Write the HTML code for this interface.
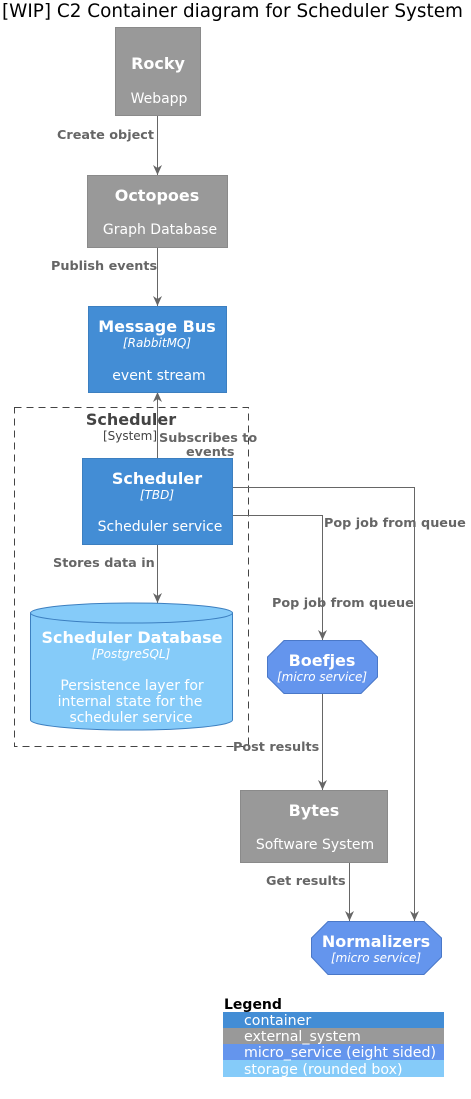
<!DOCTYPE html>
<html><head><meta charset="utf-8"><style>
html,body{margin:0;padding:0;background:#fff}
svg{display:block;font-family:"DejaVu Sans","Liberation Sans",sans-serif}
.lb{font-size:12.8px;font-weight:bold;fill:#666}
.t{font-size:16px;font-weight:bold;fill:#fff}
.s{font-size:12px;font-style:italic;fill:#fff}
.d{font-size:14px;fill:#fff}
.ln{stroke:#666;stroke-width:1;fill:none}
</style></head><body>
<svg width="471" height="1099" viewBox="0 0 471 1099">
<defs><marker id="a" markerWidth="12" markerHeight="12" refX="10" refY="5" orient="auto-start-reverse" markerUnits="userSpaceOnUse"><path d="M0,0.5 L10,5 L0,9.5 L3,5 Z" fill="#666"/></marker></defs>
<text x="2" y="17" font-size="18.4" fill="#000">[WIP] C2 Container diagram for Scheduler System</text>

<rect x="14.5" y="407.5" width="234" height="339" fill="none" stroke="#444" stroke-dasharray="7,5"/>
<text x="131" y="425" text-anchor="middle" font-size="16" font-weight="bold" fill="#444">Scheduler</text>
<text x="130" y="440" text-anchor="middle" font-size="12" fill="#444">[System]</text>

<line class="ln" x1="157.5" y1="116" x2="157.5" y2="175" marker-end="url(#a)"/>
<line class="ln" x1="157.5" y1="247" x2="157.5" y2="306" marker-end="url(#a)"/>
<line class="ln" x1="157.5" y1="458" x2="157.5" y2="392" marker-end="url(#a)"/>
<line class="ln" x1="157.5" y1="544" x2="157.5" y2="603" marker-end="url(#a)"/>
<polyline class="ln" points="232,487.5 414.5,487.5 414.5,921" marker-end="url(#a)"/>
<polyline class="ln" points="232,515.5 322.5,515.5 322.5,640" marker-end="url(#a)"/>
<line class="ln" x1="322.5" y1="693" x2="322.5" y2="790" marker-end="url(#a)"/>
<line class="ln" x1="349.5" y1="862" x2="349.5" y2="921" marker-end="url(#a)"/>

<text class="lb" x="57" y="139">Create object</text>
<text class="lb" x="51" y="270">Publish events</text>
<text class="lb" x="159" y="442">Subscribes to</text>
<text class="lb" x="186" y="456">events</text>
<text class="lb" x="53" y="567">Stores data in</text>
<text class="lb" x="324" y="527">Pop job from queue</text>
<text class="lb" x="272" y="607">Pop job from queue</text>
<text class="lb" x="233" y="751">Post results</text>
<text class="lb" x="266" y="885">Get results</text>

<rect x="115.5" y="27.5" width="85" height="88" fill="#999" stroke="#8a8a8a"/>
<text class="t" x="158" y="69" text-anchor="middle">Rocky</text>
<text class="d" x="159" y="103" text-anchor="middle">Webapp</text>
<rect x="87.5" y="175.5" width="140" height="72" fill="#999" stroke="#8a8a8a"/>
<text class="t" x="157" y="201" text-anchor="middle">Octopoes</text>
<text class="d" x="160" y="234" text-anchor="middle">Graph Database</text>
<rect x="88.5" y="306.5" width="138" height="86" fill="#438dd5" stroke="#3c7fc0"/>
<text class="t" x="157" y="332" text-anchor="middle">Message Bus</text>
<text class="s" x="157" y="347" text-anchor="middle">[RabbitMQ]</text>
<text class="d" x="159" y="380" text-anchor="middle">event stream</text>
<rect x="82.5" y="458.5" width="150" height="86" fill="#438dd5" stroke="#3c7fc0"/>
<text class="t" x="157" y="484" text-anchor="middle">Scheduler</text>
<text class="s" x="157" y="499" text-anchor="middle">[TBD]</text>
<text class="d" x="160" y="531" text-anchor="middle">Scheduler service</text>
<path d="M30.5,613 A101,10 0 0 1 232.5,613 L232.5,720 A101,10 0 0 1 30.5,720 Z" fill="#85cbf9" stroke="#3c7fc0"/>
<path d="M30.5,613 A101,10 0 0 0 232.5,613" fill="none" stroke="#3c7fc0"/>
<text class="t" x="132" y="643" text-anchor="middle">Scheduler Database</text>
<text class="s" x="131" y="658" text-anchor="middle">[PostgreSQL]</text>
<text class="d" x="132" y="690" text-anchor="middle">Persistence layer for</text>
<text class="d" x="130" y="706" text-anchor="middle">internal state for the</text>
<text class="d" x="131" y="722" text-anchor="middle">scheduler service</text>
<polygon points="284,640.5 361,640.5 377.5,657 377.5,677 361,693.5 284,693.5 267.5,677 267.5,657" fill="#6495ed" stroke="#4a78c8"/>
<text class="t" x="322" y="666" text-anchor="middle">Boefjes</text>
<text class="s" x="322" y="681" text-anchor="middle">[micro service]</text>
<rect x="240.5" y="790.5" width="147" height="72" fill="#999" stroke="#8a8a8a"/>
<text class="t" x="314" y="816" text-anchor="middle">Bytes</text>
<text class="d" x="315" y="849" text-anchor="middle">Software System</text>
<polygon points="328,921.5 424,921.5 441.5,938 441.5,957 424,974.5 328,974.5 311.5,957 311.5,938" fill="#6495ed" stroke="#4a78c8"/>
<text class="t" x="376" y="947" text-anchor="middle">Normalizers</text>
<text class="s" x="376" y="962" text-anchor="middle">[micro service]</text>

<text x="224" y="1009" font-size="14" font-weight="bold" fill="#000">Legend</text>
<rect x="223" y="1012" width="221" height="16" fill="#438dd5"/>
<rect x="223" y="1028" width="221" height="16" fill="#999"/>
<rect x="223" y="1044" width="221" height="16" fill="#6495ed"/>
<rect x="223" y="1060" width="221" height="17" fill="#85cbf9"/>
<g font-size="14.2" fill="#fff">
<text x="244" y="1025">container</text>
<text x="244" y="1041">external_system</text>
<text x="244" y="1057">micro_service (eight sided)</text>
<text x="244" y="1074">storage (rounded box)</text>
</g>
</svg>
</body></html>
